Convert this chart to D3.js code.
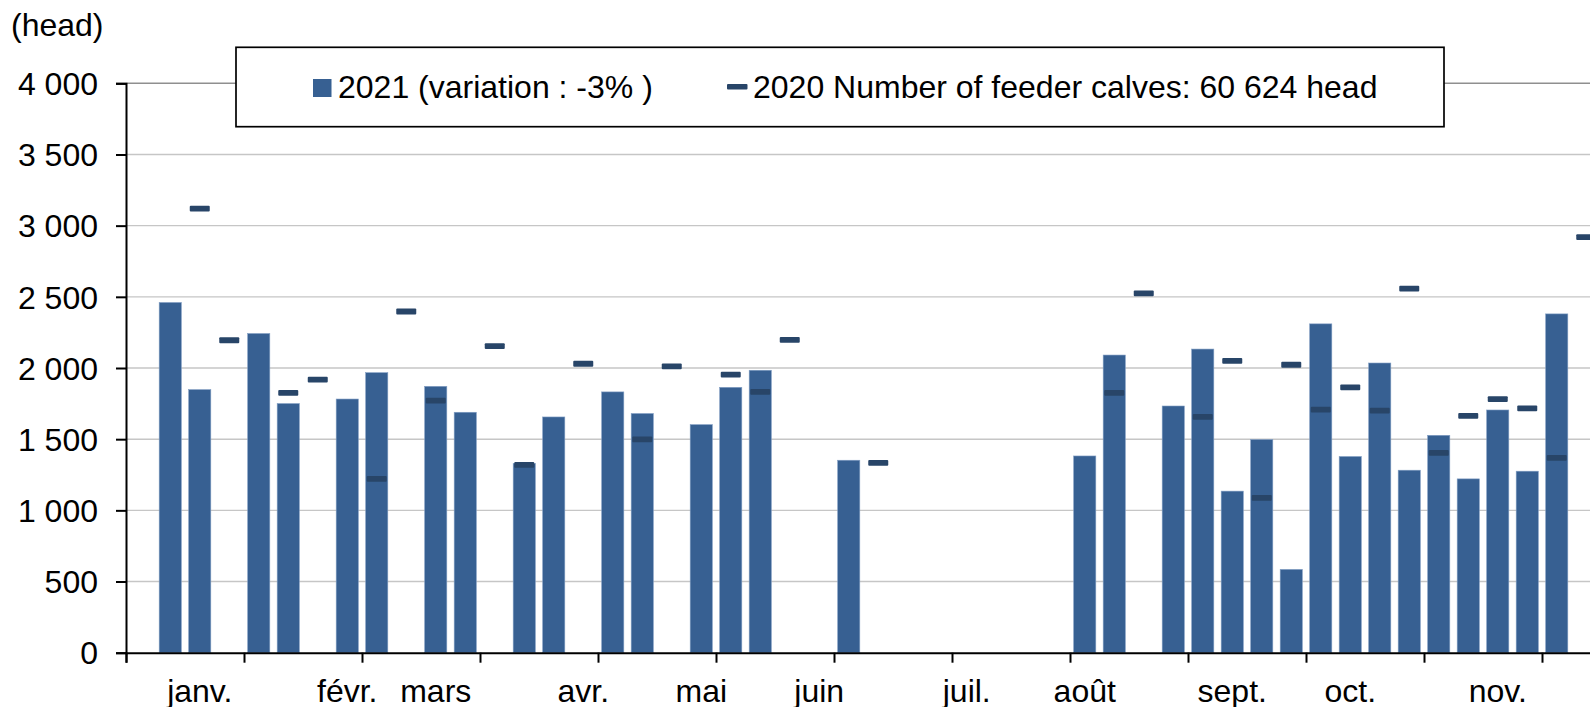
<!DOCTYPE html>
<html>
<head>
<meta charset="utf-8">
<script src="https://d3js.org/d3.v7.min.js"></script>
<style>
  html, body { margin: 0; padding: 0; background: #fff; overflow: hidden; }
  svg { display: block; font-family: "Liberation Sans", Arial, sans-serif; }
</style>
</head>
<body>
<div id="chart"></div>
<script>
// weekly slots (index 0..51), month name on the first week of each month
const weeks = d3.range(52);
const monthWeeks = [2, 7, 10, 15, 19, 23, 28, 32, 37, 41, 46];
const monthLabels = ["janv.", "févr.", "mars", "avr.", "mai", "juin", "juil.", "août", "sept.", "oct.", "nov."];

// 2021 weekly heads (bars)
const weeks2021 = [1, 2, 4, 5, 7, 8, 10, 11, 13, 14, 16, 17, 19, 20, 21, 24,
                   32, 33, 35, 36, 37, 38, 39, 40, 41, 42, 43, 44, 45, 46, 47, 48];
const values2021 = [2460, 1848, 2242, 1750, 1782, 1967, 1871, 1689, 1330, 1656, 1832, 1680, 1602, 1864, 1984, 1352,
                    1382, 2091, 1733, 2133, 1135, 1497, 585, 2310, 1378, 2035, 1282, 1527, 1221, 1705, 1275, 2380];

// 2020 weekly heads (dash markers)
const weeks2020 = [2, 3, 5, 6, 8, 9, 10, 12, 13, 15, 17, 18, 20, 21, 22, 25,
                   33, 34, 36, 37, 38, 39, 40, 41, 42, 43, 44, 45, 46, 47, 48, 49];
const values2020 = [3120, 2195, 1825, 1918, 1221, 2397, 1771, 2153, 1320, 2030, 1499, 2012, 1953, 1832, 2197, 1333,
                    1825, 2524, 1656, 2050, 1088, 2023, 1708, 1864, 1701, 2557, 1404, 1663, 1782, 1717, 1368, 2920];

const yTicks = [0, 500, 1000, 1500, 2000, 2500, 3000, 3500, 4000];
const legend2021 = "2021 (variation : -3% )";
const legend2020 = "2020 Number of feeder calves: 60 624 head";
const unitLabel = "(head)";

const width = 1590, height = 707;
const left = 126, slot = 29.5;
const y0 = 652.7, yTop = 83.3;
const fontSize = 32;
const barColor = "#376092", markColor = "#284568";

const svg = d3.select("#chart").append("svg")
    .attr("width", width)
    .attr("height", height);

const x = d3.scaleBand()
    .domain(weeks)
    .range([left, left + weeks.length * slot])
    .paddingInner(0.25)
    .paddingOuter(0.125);

const xEdge = d3.scaleLinear()
    .domain([0, weeks.length])
    .range([left, left + weeks.length * slot]);

const y = d3.scaleLinear()
    .domain([0, 4000])
    .range([y0, yTop]);

const fmt = d3.formatLocale({decimal: ",", thousands: " ", grouping: [3], currency: ["", ""]}).format(",");

// gridlines
svg.append("g")
    .selectAll("line")
    .data(yTicks.filter(d => d > 0))
    .join("line")
    .attr("x1", left).attr("x2", width + 100)
    .attr("y1", d => y(d)).attr("y2", d => y(d))
    .attr("stroke", d => d === 4000 ? "#8f8f8f" : "#c6c6c6")
    .attr("stroke-width", 1.4);

// bars 2021
svg.append("g")
    .selectAll("rect")
    .data(weeks2021.map((w, i) => ({w, v: values2021[i]})))
    .join("rect")
    .attr("x", d => x(d.w))
    .attr("y", d => y(d.v))
    .attr("width", x.bandwidth())
    .attr("height", d => y(0) - y(d.v))
    .attr("fill", barColor)
    .attr("stroke", "#7f9cc2")
    .attr("stroke-width", 0.6);

// markers 2020
svg.append("g")
    .selectAll("rect")
    .data(weeks2020.map((w, i) => ({w, v: values2020[i]})))
    .join("rect")
    .attr("x", d => x(d.w) + x.bandwidth() / 2 - 10)
    .attr("y", d => y(d.v) - 2.9)
    .attr("width", 20)
    .attr("height", 5.8)
    .attr("rx", 1)
    .attr("fill", markColor);

// y axis
const yAxis = svg.append("g")
    .attr("transform", `translate(${left},0)`)
    .call(d3.axisLeft(y).tickValues(yTicks).tickSize(10).tickPadding(18).tickFormat(fmt));
yAxis.select(".domain").attr("stroke", "#000").attr("stroke-width", 2);
yAxis.selectAll(".tick line").attr("stroke", "#000").attr("stroke-width", 2);
yAxis.selectAll(".tick text")
    .attr("font-size", fontSize)
    .attr("font-family", "Liberation Sans, Arial, sans-serif")
    .attr("fill", "#000")
    .attr("dy", "0.35em");

// x axis ticks every 4 weeks
const xAxis = svg.append("g")
    .attr("transform", `translate(0,${y0})`)
    .call(d3.axisBottom(xEdge).tickValues(d3.range(0, weeks.length + 1, 4)).tickSize(10).tickFormat(""));
xAxis.select(".domain").attr("stroke", "#000").attr("stroke-width", 2);
xAxis.selectAll(".tick line").attr("stroke", "#000").attr("stroke-width", 2);

// month labels on week slots
svg.append("g")
    .selectAll("text")
    .data(monthWeeks.map((w, i) => ({w, t: monthLabels[i]})))
    .join("text")
    .attr("x", d => x(d.w) + x.bandwidth() / 2)
    .attr("y", 702)
    .attr("text-anchor", "middle")
    .attr("font-size", fontSize)
    .attr("fill", "#000")
    .text(d => d.t);

// unit label
svg.append("text")
    .attr("x", 11).attr("y", 36)
    .attr("font-size", fontSize)
    .attr("fill", "#000")
    .text(unitLabel);

// legend
const lg = svg.append("g");
lg.append("rect")
    .attr("x", 236).attr("y", 47.3)
    .attr("width", 1444 - 236).attr("height", 126.7 - 47.3)
    .attr("fill", "#fff")
    .attr("stroke", "#000")
    .attr("stroke-width", 1.7);
lg.append("rect")
    .attr("x", 313).attr("y", 79)
    .attr("width", 18.5).attr("height", 18)
    .attr("fill", barColor);
lg.append("text")
    .attr("x", 338).attr("y", 97.5)
    .attr("font-size", fontSize)
    .attr("fill", "#000")
    .text(legend2021);
lg.append("rect")
    .attr("x", 727).attr("y", 84)
    .attr("width", 20.5).attr("height", 5.4)
    .attr("rx", 1)
    .attr("fill", markColor);
lg.append("text")
    .attr("x", 753).attr("y", 97.5)
    .attr("font-size", fontSize)
    .attr("fill", "#000")
    .text(legend2020);
</script>
</body>
</html>
